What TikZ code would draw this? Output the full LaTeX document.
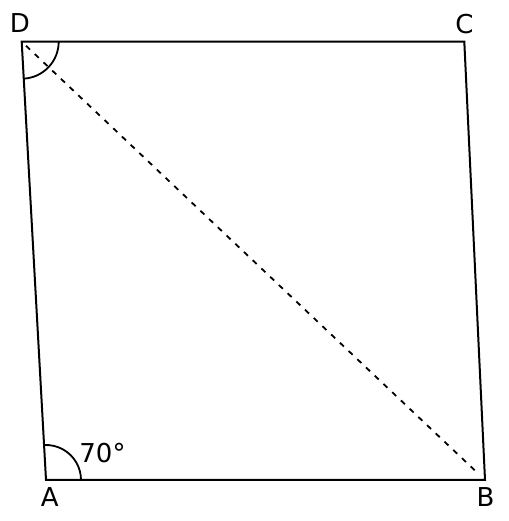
\documentclass[tikz,border=0pt]{standalone}
\usepackage{fontspec}
\setmainfont{DejaVu Sans}
\begin{document}
\begin{tikzpicture}[x=1pt,y=1pt,
  side/.style={line width=2pt, line join=miter},
  diag/.style={line width=1.8pt, dash pattern=on 5.5pt off 6.5pt},
  anglemark/.style={line width=1.8pt},
  lbl/.style={font=\fontsize{26}{31}\selectfont, anchor=base, inner sep=0pt}]
\useasboundingbox (0,0) rectangle (508,521);
\coordinate (A) at (46,41);
\coordinate (B) at (485,41);
\coordinate (C) at (464.3,479.3);
\coordinate (D) at (21.7,479.3);
\draw[side] (A) -- (B) -- (C) -- (D) -- cycle;
\draw[diag, shorten <=6pt, shorten >=8pt] (D) -- (B);
\draw[anglemark] ([shift={(0:35)}]A) arc[start angle=0, end angle=93.2, radius=35];
\draw[anglemark] ([shift={(0:37)}]D) arc[start angle=0, end angle=-86.8, radius=37];
\node[lbl] (lD) at (20,488) {D};
\node[lbl] (lC) at (464.5,487.7) {C};
\node[lbl] (lA) at (49.7,14) {A};
\node[lbl] (lB) at (485.5,14) {B};
\node[lbl] (l70) at (102.5,58) {70°};
\end{tikzpicture}
\end{document}
